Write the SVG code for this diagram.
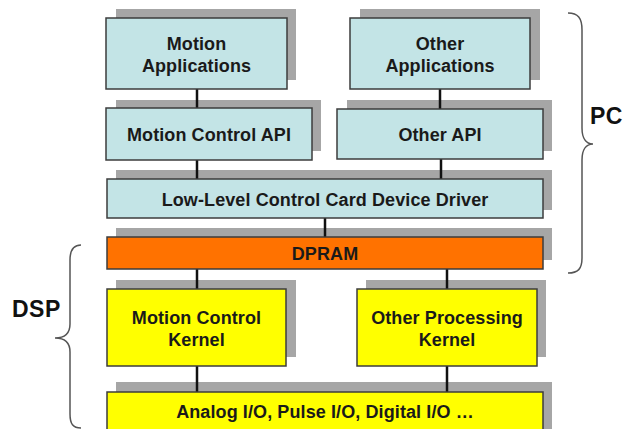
<svg xmlns="http://www.w3.org/2000/svg" width="634" height="429" viewBox="0 0 634 429">
  <style>
    .shadow { fill: #a6a6a6; }
    .box { stroke: #3c3c3c; stroke-width: 1.5; }
    .pc { fill: #c3e4e6; }
    .ram { fill: #ff7200; }
    .dsp { fill: #ffff00; }
    .lbl { font-family: "Liberation Sans", Arial, sans-serif; font-weight: bold; font-size: 18px; letter-spacing: 0.1px; fill: #1a1a1a; text-anchor: middle; }
    .big { font-family: "Liberation Sans", Arial, sans-serif; font-weight: bold; font-size: 23px; letter-spacing: 0.5px; fill: #111; }
    .link { stroke: #111; stroke-width: 2.5; fill: none; }
    .brace { stroke: #555; stroke-width: 1.5; fill: none; }
  </style>
  <rect width="634" height="429" fill="#fff"/>

  <!-- drop shadows behind every layer box -->
  <g id="shadows">
    <rect class="shadow" x="116" y="9" width="180" height="71"/>
    <rect class="shadow" x="360" y="9" width="180" height="71"/>
    <rect class="shadow" x="116" y="100" width="205" height="51"/>
    <rect class="shadow" x="347" y="100" width="205" height="51"/>
    <rect class="shadow" x="116" y="170" width="436" height="40"/>
    <rect class="shadow" x="116" y="228" width="436" height="32"/>
    <rect class="shadow" x="116" y="280" width="180" height="77"/>
    <rect class="shadow" x="366" y="280" width="180" height="77"/>
    <rect class="shadow" x="116" y="382" width="436" height="50"/>
  </g>

  <!-- vertical links between layers -->
  <g id="connectors">
    <line class="link" x1="197" y1="89" x2="197" y2="108"/>
    <line class="link" x1="440" y1="89" x2="440" y2="109"/>
    <line class="link" x1="197" y1="160" x2="197" y2="179"/>
    <line class="link" x1="441" y1="159" x2="441" y2="179"/>
    <line class="link" x1="325" y1="218" x2="325" y2="237"/>
    <line class="link" x1="197" y1="269" x2="197" y2="289"/>
    <line class="link" x1="447" y1="269" x2="447" y2="289"/>
    <line class="link" x1="197" y1="366" x2="197" y2="392"/>
    <line class="link" x1="447" y1="366" x2="447" y2="392"/>
  </g>

  <g id="motion-applications">
    <rect class="box pc" x="106" y="18" width="181" height="71"/>
    <text class="lbl" x="196.5" y="50">Motion</text>
    <text class="lbl" x="196.5" y="72">Applications</text>
  </g>
  <g id="other-applications">
    <rect class="box pc" x="350" y="18" width="180" height="71"/>
    <text class="lbl" x="440" y="50">Other</text>
    <text class="lbl" x="440" y="72">Applications</text>
  </g>
  <g id="motion-control-api">
    <rect class="box pc" x="106" y="108" width="206" height="52"/>
    <text class="lbl" x="209" y="141">Motion Control API</text>
  </g>
  <g id="other-api">
    <rect class="box pc" x="337" y="109" width="206" height="50"/>
    <text class="lbl" x="440" y="141">Other API</text>
  </g>
  <g id="device-driver">
    <rect class="box pc" x="107" y="179" width="436" height="39"/>
    <text class="lbl" x="325" y="205.5">Low-Level Control Card Device Driver</text>
  </g>
  <g id="dpram">
    <rect class="box ram" x="107" y="237" width="436" height="32"/>
    <text class="lbl" x="325" y="260">DPRAM</text>
  </g>
  <g id="motion-control-kernel">
    <rect class="box dsp" x="107" y="289" width="179" height="77"/>
    <text class="lbl" x="196.5" y="323.5">Motion Control</text>
    <text class="lbl" x="196.5" y="345.5">Kernel</text>
  </g>
  <g id="other-processing-kernel">
    <rect class="box dsp" x="357" y="289" width="180" height="77"/>
    <text class="lbl" x="447" y="323.5">Other Processing</text>
    <text class="lbl" x="447" y="345.5">Kernel</text>
  </g>
  <g id="io">
    <rect class="box dsp" x="107" y="392" width="436" height="40"/>
    <text class="lbl" x="325" y="417.5">Analog I/O, Pulse I/O, Digital I/O …</text>
  </g>

  <!-- grouping braces -->
  <g id="pc-group">
    <path class="brace" d="M568,13 C578,13 582,18 582,30 L582,128 C582,138 586,144 593,144 C586,144 582,150 582,160 L582,258 C582,269 578,273 568,273"/>
    <text class="big" x="590" y="123.5">PC</text>
  </g>
  <g id="dsp-group">
    <path class="brace" d="M81,245 C73,245 70,250 70,260 L70,324 C70,333 66,338 55,338 C66,338 70,343 70,352 L70,414 C70,424 73,428 81,428"/>
    <text class="big" x="12" y="316.5">DSP</text>
  </g>
</svg>
